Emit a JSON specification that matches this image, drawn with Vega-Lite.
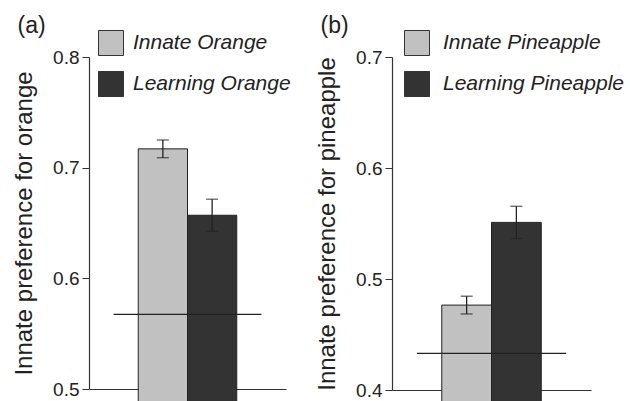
{
  "$schema": "https://vega.github.io/schema/vega-lite/v6.json",
  "background": "white",
  "padding": {"left": 12, "top": 15, "right": 5, "bottom": 5},
  "bounds": "flush",
  "spacing": 106,
  "config": {
    "font": "Liberation Sans",
    "view": {"stroke": null},
    "axis": {"grid": false, "domainColor": "#333333", "tickColor": "#333333", "labelColor": "#222222", "titleColor": "#222222", "labelFont": "Liberation Sans", "titleFont": "Liberation Sans", "titleFontWeight": "normal"},
    "title": {"font": "Liberation Sans", "fontWeight": "normal", "fontSize": 23, "color": "#222222", "anchor": "start", "frame": "bounds"}
  },
  "hconcat": [
    {
      "width": 197,
      "height": 332,
      "title": {"text": "(a)", "dy": 12, "dx": 5},
      "data": {"values": [
        {"group": "Innate Orange", "mean": 0.717, "lo": 0.709, "hi": 0.725, "chance": 0.5675},
        {"group": "Learning Orange", "mean": 0.657, "lo": 0.6425, "hi": 0.6715, "chance": 0.5675}
      ]},
      "layer": [
        {
          "encoding": {
            "x": {"field": "group", "type": "nominal", "sort": null, "scale": {"paddingInner": 0, "paddingOuter": 1.03}, "axis": {"labels": false, "ticks": false, "title": null, "domainWidth": 1.2}}
          },
          "layer": [
            {
              "mark": {"type": "bar", "stroke": "#222222", "strokeWidth": 1},
              "encoding": {
                "y": {"field": "mean", "type": "quantitative", "scale": {"domain": [0.5, 0.8], "nice": false, "zero": false}, "axis": {"values": [0.5, 0.6, 0.7, 0.8], "format": ".1f", "title": "Innate preference for orange", "titleFontSize": 24, "labelFontSize": 19, "tickSize": 7, "labelPadding": 3, "titlePadding": 16, "domainWidth": 1.2}},
                "color": {"field": "group", "type": "nominal", "sort": null, "scale": {"range": ["#c1c1c1", "#333333"]}, "legend": {"title": null, "orient": "none", "legendX": 9, "legendY": -27, "symbolType": "square", "symbolSize": 625, "symbolStrokeColor": "#333333", "symbolStrokeWidth": 1, "symbolOpacity": 1, "labelFontSize": 21, "labelFontStyle": "italic", "labelColor": "#222222", "labelOffset": 9, "labelLimit": 0, "rowPadding": 11, "labelFont": "Liberation Sans"}}
              }
            },
            {
              "mark": {"type": "rule", "color": "#222222", "strokeWidth": 1.3},
              "encoding": {
                "y": {"field": "lo", "type": "quantitative"},
                "y2": {"field": "hi"}
              }
            },
            {
              "mark": {"type": "tick", "color": "#222222", "size": 12, "thickness": 1.3},
              "encoding": {"y": {"field": "lo", "type": "quantitative"}}
            },
            {
              "mark": {"type": "tick", "color": "#222222", "size": 12, "thickness": 1.3},
              "encoding": {"y": {"field": "hi", "type": "quantitative"}}
            }
          ]
        },
        {
          "mark": {"type": "rule", "color": "#222222", "strokeWidth": 1.2},
          "encoding": {
            "x": {"datum": 0.5, "type": "quantitative", "scale": {"domain": [0, 4]}, "axis": null},
            "x2": {"datum": 3.5},
            "y": {"aggregate": "mean", "field": "chance", "type": "quantitative"}
          }
        }
      ],
      "resolve": {"scale": {"x": "independent"}}
    },
    {
      "width": 199,
      "height": 333,
      "title": {"text": "(b)", "dy": 12, "dx": 5},
      "data": {"values": [
        {"group": "Innate Pineapple", "mean": 0.4765, "lo": 0.4685, "hi": 0.4845, "chance": 0.433},
        {"group": "Learning Pineapple", "mean": 0.551, "lo": 0.5365, "hi": 0.5655, "chance": 0.433}
      ]},
      "layer": [
        {
          "encoding": {
            "x": {"field": "group", "type": "nominal", "sort": null, "scale": {"paddingInner": 0, "paddingOuter": 1.03}, "axis": {"labels": false, "ticks": false, "title": null, "domainWidth": 1.2}}
          },
          "layer": [
            {
              "mark": {"type": "bar", "stroke": "#222222", "strokeWidth": 1},
              "encoding": {
                "y": {"field": "mean", "type": "quantitative", "scale": {"domain": [0.4, 0.7], "nice": false, "zero": false}, "axis": {"values": [0.4, 0.5, 0.6, 0.7], "format": ".1f", "title": "Innate preference for pineapple", "titleFontSize": 24, "labelFontSize": 19, "tickSize": 7, "labelPadding": 3, "titlePadding": 16, "domainWidth": 1.2}},
                "color": {"field": "group", "type": "nominal", "sort": null, "scale": {"range": ["#c1c1c1", "#333333"]}, "legend": {"title": null, "orient": "none", "legendX": 12, "legendY": -27, "symbolType": "square", "symbolSize": 625, "symbolStrokeColor": "#333333", "symbolStrokeWidth": 1, "symbolOpacity": 1, "labelFontSize": 21, "labelFontStyle": "italic", "labelColor": "#222222", "labelOffset": 13, "labelLimit": 0, "rowPadding": 11, "labelFont": "Liberation Sans"}}
              }
            },
            {
              "mark": {"type": "rule", "color": "#222222", "strokeWidth": 1.3},
              "encoding": {
                "y": {"field": "lo", "type": "quantitative"},
                "y2": {"field": "hi"}
              }
            },
            {
              "mark": {"type": "tick", "color": "#222222", "size": 12, "thickness": 1.3},
              "encoding": {"y": {"field": "lo", "type": "quantitative"}}
            },
            {
              "mark": {"type": "tick", "color": "#222222", "size": 12, "thickness": 1.3},
              "encoding": {"y": {"field": "hi", "type": "quantitative"}}
            }
          ]
        },
        {
          "mark": {"type": "rule", "color": "#222222", "strokeWidth": 1.2},
          "encoding": {
            "x": {"datum": 0.5, "type": "quantitative", "scale": {"domain": [0, 4]}, "axis": null},
            "x2": {"datum": 3.5},
            "y": {"aggregate": "mean", "field": "chance", "type": "quantitative"}
          }
        }
      ],
      "resolve": {"scale": {"x": "independent"}}
    }
  ],
  "resolve": {"scale": {"color": "independent", "y": "independent"}, "legend": {"color": "independent"}}
}
